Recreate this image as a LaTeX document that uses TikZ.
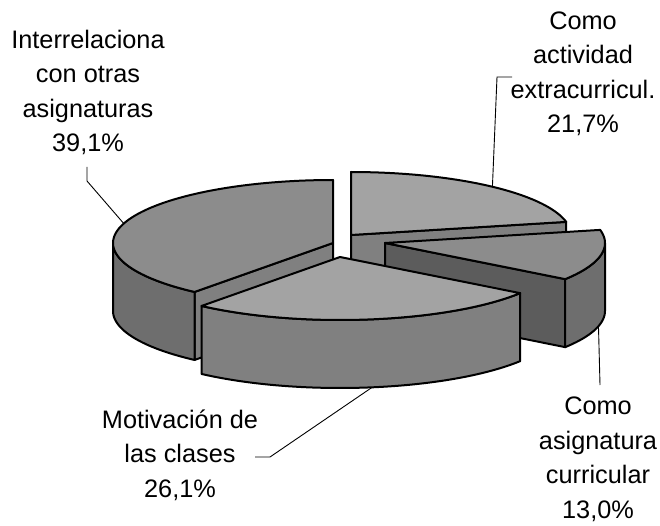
\documentclass[tikz,border=0pt]{standalone}
\usepackage{fontspec}
\setmainfont{Liberation Sans}
\begin{document}
\begin{tikzpicture}[x=1pt,y=-1pt,
  edge/.style={draw=black,line width=2pt,line join=round},
  topA/.style={edge,fill=black!45},
  topB/.style={edge,fill=black!36},
  sideA/.style={edge,fill=black!57},
  sideB/.style={edge,fill=black!50},
  sideC/.style={edge,fill=black!64},
  leader/.style={draw=black,line width=0.9pt},
  lbl/.style={align=center,inner sep=0pt,anchor=base,font=\fontsize{25.3}{34.5}\selectfont}]
\useasboundingbox (0,0) rectangle (660,526);
\def\ra{220}\def\rb{63}\def\dh{68}
% ---- big slice: Interrelaciona (219..360), centre (333,243)
\path[sideB] (333,243) -- ({333+\ra*sin(219)},{243-\rb*cos(219)}) -- ++(0,\dh) -- (333,{243+\dh}) -- cycle;
\path[sideA] plot[domain=219:270,samples=40] ({333+\ra*sin(\x)},{243-\rb*cos(\x)}) -- plot[domain=270:219,samples=40] ({333+\ra*sin(\x)},{243+\dh-\rb*cos(\x)}) -- cycle;
\path[topA] (333,243) -- plot[domain=219:360,samples=80] ({333+\ra*sin(\x)},{243-\rb*cos(\x)}) -- cycle;
% ---- extracurricular (0..78), centre (351,235)
\path[sideB] (351,235) -- ({351+\ra*sin(78)},{235-\rb*cos(78)}) -- ++(0,\dh) -- (351,{235+\dh}) -- cycle;
\path[topB] (351,235) -- plot[domain=0:78,samples=50] ({351+\ra*sin(\x)},{235-\rb*cos(\x)}) -- cycle;
% ---- curricular (78..125), centre (385,243)
\path[sideC] (385,243) -- ({385+\ra*sin(125)},{243-\rb*cos(125)}) -- ++(0,\dh) -- (385,{243+\dh}) -- cycle;
\path[sideA] plot[domain=90:125,samples=20] ({385+\ra*sin(\x)},{243-\rb*cos(\x)}) -- plot[domain=125:90,samples=20] ({385+\ra*sin(\x)},{243+\dh-\rb*cos(\x)}) -- cycle;
\path[topA] (385,243) -- plot[domain=78:125,samples=30] ({385+\ra*sin(\x)},{243-\rb*cos(\x)}) -- cycle;
% ---- motivacion (125..219), centre (340,257)
\path[sideB] plot[domain=125:219,samples=60] ({340+\ra*sin(\x)},{257-\rb*cos(\x)}) -- plot[domain=219:125,samples=60] ({340+\ra*sin(\x)},{257+\dh-\rb*cos(\x)}) -- cycle;
\path[topB] (340,257) -- plot[domain=125:219,samples=60] ({340+\ra*sin(\x)},{257-\rb*cos(\x)}) -- cycle;
% ---- labels (anchor = baseline of last line)
\node[lbl] (lab1) at (88,152) {Interrelaciona\\con otras\\asignaturas\\39,1\%};
\node[lbl] (lab2) at (583,133) {Como\\actividad\\extracurricul.\\21,7\%};
\node[lbl] (lab3) at (598,518) {Como\\asignatura\\curricular\\13,0\%};
\node[lbl] (lab4) at (180,497) {Motivación de\\las clases\\26,1\%};
% ---- leaders
\coordinate (r1) at ({333+\ra*sin(288)},{243-\rb*cos(288)});
\coordinate (r2) at ({351+\ra*sin(40)},{235-\rb*cos(40)});
\coordinate (r3) at ({385+\ra*sin(104)},{243+\dh-\rb*cos(104)});
\coordinate (r4) at ({340+\ra*sin(171.6)},{257+\dh-\rb*cos(171.6)});
\draw[leader] (r1) -- (87,181) -- (87,167);
\draw[leader] (r2) -- (497,77) -- (512,77);
\draw[leader] (r3) -- (600,385);
\draw[leader] (r4) -- (270,457) -- (255,457);
\end{tikzpicture}
\end{document}
